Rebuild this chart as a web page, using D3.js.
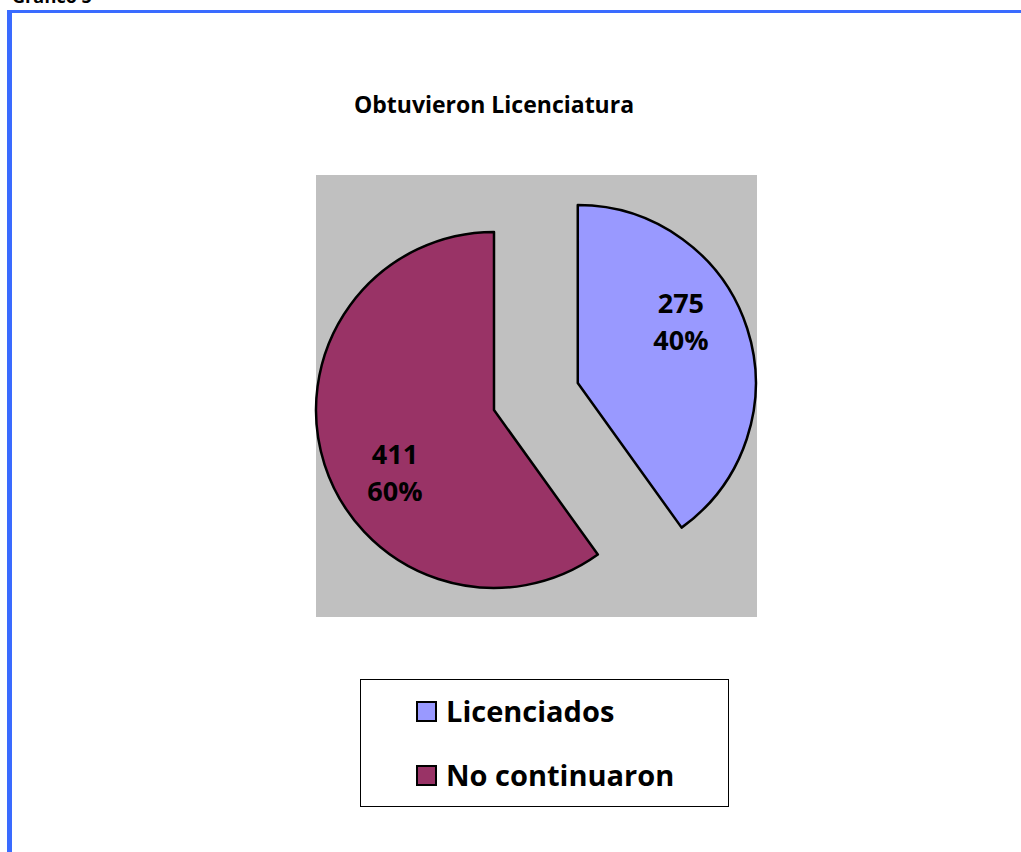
<!DOCTYPE html>
<html lang="es">
<head>
    <meta charset="UTF-8">
    <title>Obtuvieron Licenciatura</title>
    <style>
        body { margin: 0; background: #fff; }
        text { font-family: "Open Sans", sans-serif; font-weight: bold; fill: #000; }
    </style>
</head>
<body>
    <script src="https://cdn.jsdelivr.net/npm/d3@7"></script>
    <script>

        var categories = ["Licenciados", "No continuaron"];
        var values = [275, 411];
        var percents = ["40%", "60%"];
        var colors = ["#9999FF", "#993366"];

        var width = 1021,
            height = 852;

        var cx = 494, cy = 410, radius = 178,
            explode = 88;

        var svg = d3.select("body").append("svg")
            .attr("width", width)
            .attr("height", height);

        // page frame (heading is cut by the top edge, as in the source)
        svg.append("text")
            .attr("x", 12)
            .attr("y", 3)
            .style("font-size", "18px")
            .text("Gráfico 5");

        svg.append("rect")
            .attr("x", 7).attr("y", 10)
            .attr("width", width - 7).attr("height", 3)
            .attr("fill", "#3A6BFF");
        svg.append("rect")
            .attr("x", 7).attr("y", 10)
            .attr("width", 5).attr("height", height - 10)
            .attr("fill", "#3A6BFF");

        svg.append("text")
            .attr("x", 494)
            .attr("y", 113)
            .attr("text-anchor", "middle")
            .style("font-size", "23px")
            .text("Obtuvieron Licenciatura");

        // plot area
        svg.append("rect")
            .attr("x", 316).attr("y", 175)
            .attr("width", 441).attr("height", 442)
            .attr("fill", "#C0C0C0");

        var pie = d3.pie().sort(null)(values);

        var arc = d3.arc()
            .innerRadius(0)
            .outerRadius(radius);

        var g = svg.append("g")
            .attr("transform", "translate(" + cx + "," + cy + ")");

        var slice = g.selectAll("g.slice")
            .data(pie)
            .enter().append("g")
            .attr("class", "slice")
            .attr("transform", function(d, i) {
                if (i !== 0) return null;
                var a = (d.startAngle + d.endAngle) / 2;
                return "translate(" + (Math.sin(a) * explode) + "," + (-Math.cos(a) * explode) + ")";
            });

        slice.append("path")
            .attr("d", arc)
            .attr("fill", function(d, i) { return colors[i]; })
            .attr("stroke", "#000")
            .attr("stroke-width", 2.5)
            .attr("stroke-linejoin", "round");

        var label = slice.append("text")
            .attr("text-anchor", "middle")
            .style("font-size", "27px")
            .attr("transform", function(d) {
                var a = (d.startAngle + d.endAngle) / 2 - 14 * Math.PI / 180;
                return "translate(" + (Math.sin(a) * 119 + 2) + "," + (-Math.cos(a) * 117) + ")";
            });
        label.append("tspan")
            .attr("x", 0).attr("y", -8)
            .text(function(d) { return d.data; });
        label.append("tspan")
            .attr("x", 0).attr("y", 29)
            .text(function(d, i) { return percents[i]; });

        // legend
        svg.append("rect")
            .attr("x", 360.5).attr("y", 679.5)
            .attr("width", 368).attr("height", 127)
            .attr("fill", "#fff")
            .attr("stroke", "#000")
            .attr("stroke-width", 1);

        var legend = svg.selectAll("g.legend")
            .data(categories)
            .enter().append("g")
            .attr("class", "legend")
            .attr("transform", function(d, i) { return "translate(416," + (701 + i * 64) + ")"; });

        legend.append("rect")
            .attr("x", 1).attr("y", 1)
            .attr("width", 19).attr("height", 19)
            .attr("fill", function(d, i) { return colors[i]; })
            .attr("stroke", "#000")
            .attr("stroke-width", 2);

        legend.append("text")
            .attr("x", 30)
            .attr("y", 21)
            .style("font-size", "29px")
            .text(function(d) { return d; });

    </script>
</body>
</html>
